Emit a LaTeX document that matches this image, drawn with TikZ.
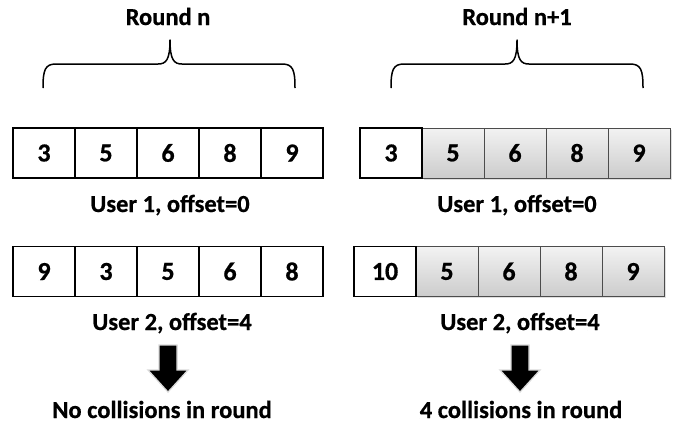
\documentclass[tikz,border=0pt]{standalone}
\usepackage{fontspec}
\setmainfont{Carlito}[BoldFeatures={FakeBold=0.6}]
\usetikzlibrary{shadows}
\begin{document}
\begin{tikzpicture}[x=1pt,y=-1pt,
  txt/.style={font=\fontsize{24.5}{24.5}\selectfont\bfseries, anchor=base, inner sep=0pt},
  cell/.style={draw=black, line width=1.3pt, minimum width=62pt, minimum height=50pt,
    inner sep=0pt, font=\fontsize{26}{26}\selectfont\bfseries},
  graycell/.style={cell, draw=black!70, line width=0.7pt, top color=gray!10, bottom color=gray!40,
    drop shadow={opacity=0.25, shadow xshift=1.5pt, shadow yshift=-1.5pt}},
  brace/.style={line width=1.5pt, line join=round},
  bigarrow/.style={fill=black, draw=gray!30, line width=1.2pt, line join=miter}
]
\useasboundingbox (0,0) rectangle (676,426);

% headings
\node[txt] (hA) at (168,25) {Round n};
\node[txt] (hB) at (517,25) {Round n+1};

% braces under the headings
\draw[brace] (43,88) .. controls (43,70) and (45,64) .. (56,64) -- (158,64)
  .. controls (166,64) and (170,60) .. (170,40)
  .. controls (170,60) and (174,64) .. (182,64) -- (282,64)
  .. controls (293,64) and (295,70) .. (295,88);
\draw[brace] (391,88) .. controls (391,70) and (393,64) .. (404,64) -- (505,64)
  .. controls (513,64) and (517,60) .. (517,40)
  .. controls (517,60) and (521,64) .. (529,64) -- (630,64)
  .. controls (641,64) and (643,70) .. (643,88);

% round n, user 1
\foreach \v [count=\i from 0] in {3,5,6,8,9}
  \node[cell] (a\i) at (44+62*\i,153) {\v};
\node[txt] (la) at (170,212) {User 1, offset=0};

% round n, user 2
\foreach \v [count=\i from 0] in {9,3,5,6,8}
  \node[cell] (b\i) at (44+62*\i,271.5) {\v};
\node[txt] (lb) at (172,330) {User 2, offset=4};

% round n+1, user 1
\foreach \v [count=\i from 1] in {5,6,8,9}
  \node[graycell] (c\i) at (391+62*\i,153) {\v};
\node[cell, fill=white] (c0) at (391,153) {3};
\node[txt] (lc) at (517,212) {User 1, offset=0};

% round n+1, user 2
\foreach \v [count=\i from 1] in {5,6,8,9}
  \node[graycell] (d\i) at (385+62*\i,271.5) {\v};
\node[cell, fill=white] (d0) at (385,271.5) {10};
\node[txt] (ld) at (520,330) {User 2, offset=4};

% block arrows
\draw[bigarrow] (159,345) -- (177,345) -- (177,370) -- (188,370) -- (168,392)
  -- (148,370) -- (159,370) -- cycle;
\draw[bigarrow] (511,345) -- (529,345) -- (529,370) -- (540,370) -- (520,392)
  -- (500,370) -- (511,370) -- cycle;

% outcomes
\node[txt] (ra) at (162,418) {No collisions in round};
\node[txt] (rb) at (521,418) {4 collisions in round};
\end{tikzpicture}
\end{document}
